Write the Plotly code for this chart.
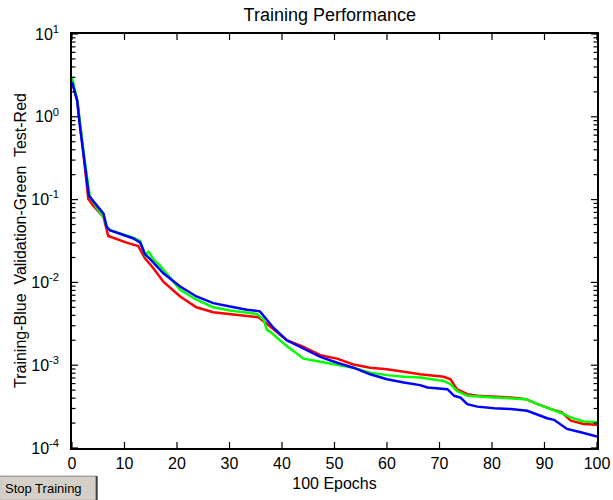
import math
import plotly.graph_objects as go

# Training (blue)
train_epochs = [0, 1, 1.5, 2.2, 2.8, 3.2, 4.7, 6, 6.6, 7.2, 11.7, 13, 13.9, 14.9, 17.4, 20.6, 23.7, 26.9,
                30.1, 33.3, 35.8, 37.1, 38.4, 40.9, 44.1, 47.3, 50.5, 53.6, 56.8, 60, 63.2, 66.3, 67.7,
                71.5, 72.8, 74, 75.3, 77.2, 80.4, 83.6, 86.7, 88.7, 90.5, 91.8, 94.3, 96.9, 100]
train_perf = [2.63, 1.55, 0.776, 0.372, 0.195, 0.112, 0.0851, 0.0676, 0.0468, 0.0427, 0.0339, 0.0302,
              0.0219, 0.0191, 0.0129, 0.00891, 0.00676, 0.00562, 0.00513, 0.00468, 0.00447, 0.00355,
              0.00282, 0.00200, 0.00158, 0.00126, 0.00107, 0.000933, 0.000776, 0.000676, 0.000617,
              0.000575, 0.000537, 0.000513, 0.000427, 0.000407, 0.000339, 0.000316, 0.000302, 0.000295,
              0.000282, 0.000251, 0.000229, 0.000219, 0.000170, 0.000155, 0.000138]

# Validation (green)
val_epochs = [0, 1, 2.4, 3.4, 4.7, 6, 6.6, 7.2, 11.7, 13, 13.9, 14.6, 15.5, 16.8, 20.6, 23.7, 26.9,
              30.1, 35.2, 36.5, 37.1, 37.8, 40.9, 44.1, 47.3, 50.5, 53.6, 56.8, 60, 63.2, 66.3, 70.8,
              72.1, 73.3, 75.3, 80.4, 86.5, 88.7, 91.3, 93.3, 95, 97.5, 100]
val_perf = [3.02, 1.58, 0.302, 0.110, 0.0794, 0.0617, 0.0468, 0.0427, 0.0347, 0.0316, 0.0214, 0.0234,
            0.0191, 0.0158, 0.00813, 0.00617, 0.00501, 0.00457, 0.00417, 0.00355, 0.00269, 0.00251,
            0.00170, 0.00120, 0.00110, 0.00102, 0.000933, 0.000813, 0.000759, 0.000724, 0.000708,
            0.000646, 0.000589, 0.000490, 0.000427, 0.000407, 0.000389, 0.000339, 0.000295, 0.000263,
            0.000234, 0.000209, 0.000204]

# Test (red)
test_epochs = [0, 1, 2.2, 2.8, 3.1, 4, 6, 6.9, 10.4, 12.6, 13.9, 15.5, 17.4, 20.6, 23.7, 26.9, 30.1,
               34.6, 35.5, 37.1, 39, 40.9, 44.1, 47.3, 50.5, 53.6, 56.8, 60, 63.2, 66.3, 70.8, 72.1,
               73.3, 75.3, 77.2, 80.4, 83.6, 86.5, 88.7, 91.3, 93.3, 95, 97.5, 100]
test_perf = [2.75, 1.55, 0.355, 0.135, 0.102, 0.0851, 0.0617, 0.0363, 0.0302, 0.0275, 0.0195, 0.0148,
             0.0102, 0.00676, 0.00501, 0.00437, 0.00417, 0.00389, 0.00380, 0.00316, 0.00251, 0.00200,
             0.00166, 0.00132, 0.00120, 0.00102, 0.000933, 0.000891, 0.000832, 0.000776, 0.000724,
             0.000676, 0.000513, 0.000447, 0.000427, 0.000417, 0.000407, 0.000389, 0.000339, 0.000295,
             0.000269, 0.000214, 0.000195, 0.000191]

x_ticks = [0, 10, 20, 30, 40, 50, 60, 70, 80, 90, 100]
y_tickvals = [1e-4, 1e-3, 1e-2, 1e-1, 1e0, 1e1]
y_ticktext = ["10<sup>-4</sup>", "10<sup>-3</sup>", "10<sup>-2</sup>", "10<sup>-1</sup>",
              "10<sup>0</sup>", "10<sup>1</sup>"]
y_minor_ticks = [k * 10.0 ** e for e in range(-4, 1) for k in range(2, 10)]

X_RANGE = [0, 100]
Y_LOG_RANGE = [-4, 1]

FONT = "Liberation Sans, Arial, sans-serif"
PLOT_W, PLOT_H = 613 - 72 - 16, 500 - 34 - 52

fig = go.Figure()
fig.add_trace(go.Scatter(x=test_epochs, y=test_perf, mode="lines",
                         line=dict(color="#ff0000", width=2.5), name="Test"))
fig.add_trace(go.Scatter(x=val_epochs, y=val_perf, mode="lines",
                         line=dict(color="#00ff00", width=2.5), name="Validation"))
fig.add_trace(go.Scatter(x=train_epochs, y=train_perf, mode="lines",
                         line=dict(color="#0000ff", width=2.5), name="Training"))

fig.update_layout(
    width=613, height=500,
    margin=dict(l=72, r=16, t=34, b=52, autoexpand=False),
    paper_bgcolor="white", plot_bgcolor="white",
    showlegend=False,
    font=dict(family=FONT, size=16, color="black"),
    title=dict(text="Training Performance", x=0.538, xanchor="center", y=0.97, yanchor="middle",
               font=dict(family=FONT, size=18, color="black")),
    xaxis=dict(range=X_RANGE, tickvals=x_ticks, showgrid=False, zeroline=False, automargin=False,
               showline=True, linecolor="black", linewidth=1.5, mirror=True,
               ticks="", tickfont=dict(size=16),
               title=dict(text="100 Epochs", standoff=7, font=dict(size=16))),
    yaxis=dict(type="log", range=Y_LOG_RANGE, tickvals=y_tickvals, ticktext=y_ticktext,
               showgrid=False, zeroline=False, tickfont=dict(size=16), automargin=False,
               showline=True, linecolor="black", linewidth=1.5, mirror=True,
               ticks="", ticklabelstandoff=8),
)


def x_frac(v):
    return (v - X_RANGE[0]) / (X_RANGE[1] - X_RANGE[0])


def y_frac(v):
    return (math.log10(v) - Y_LOG_RANGE[0]) / (Y_LOG_RANGE[1] - Y_LOG_RANGE[0])


# inside tick marks on all four sides (MATLAB style), placed in axis-domain fractions
tick_line = dict(color="black", width=1.2)
for xv in x_ticks:
    fx = x_frac(xv)
    for y0, y1 in ((0, 6 / PLOT_H), (1, 1 - 6 / PLOT_H)):
        fig.add_shape(type="line", xref="x domain", yref="y domain", x0=fx, x1=fx, y0=y0, y1=y1,
                      line=tick_line, layer="above")
for vals, length in ((y_tickvals, 6), (y_minor_ticks, 3.5)):
    for yv in vals:
        fy = y_frac(yv)
        for x0, x1 in ((0, length / PLOT_W), (1, 1 - length / PLOT_W)):
            fig.add_shape(type="line", xref="x domain", yref="y domain", x0=x0, x1=x1, y0=fy, y1=fy,
                          line=tick_line, layer="above")

# y-axis title placed as a rotated annotation
fig.add_annotation(text="Training-Blue  Validation-Green  Test-Red", xref="paper", yref="paper",
                   x=-0.099, y=0.5, xanchor="center", yanchor="middle", textangle=-90,
                   showarrow=False, font=dict(family=FONT, size=16, color="black"))

# "Stop Training" button (drawn in paper coordinates)
fig.add_shape(type="rect", xref="paper", yref="paper", x0=-0.138, x1=0.047, y0=-0.1265, y1=-0.068,
              fillcolor="#d4d0c8", line=dict(color="#808080", width=1), layer="above")
fig.add_shape(type="line", xref="paper", yref="paper", x0=0.047, x1=0.047, y0=-0.1265, y1=-0.068,
              line=dict(color="#404040", width=2), layer="above")
fig.add_annotation(text="Stop Training", xref="paper", yref="paper", x=-0.132, y=-0.097,
                   xanchor="left", yanchor="middle", showarrow=False,
                   font=dict(family=FONT, size=13, color="black"))

fig.write_html("out.html")
